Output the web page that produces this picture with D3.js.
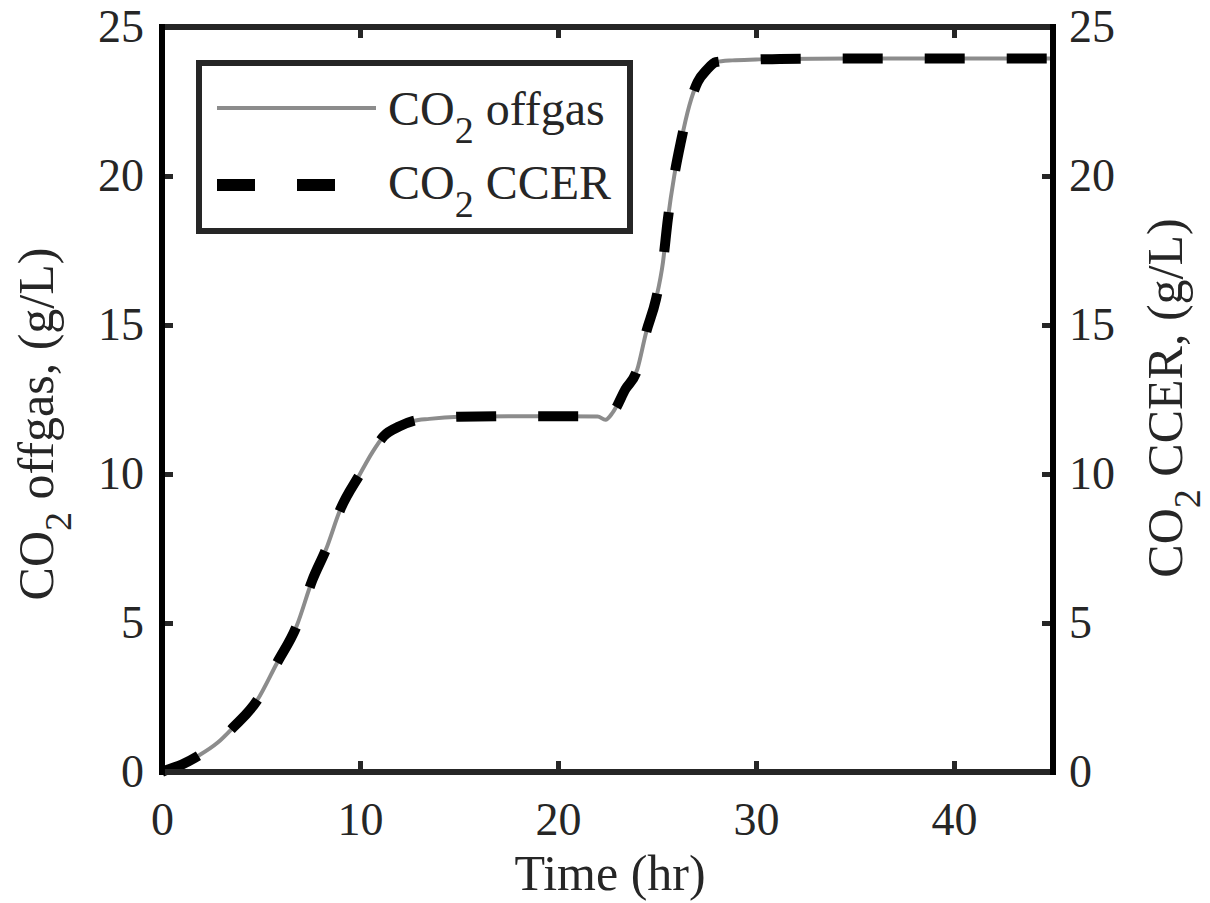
<!DOCTYPE html>
<html>
<head>
<meta charset="utf-8">
<title>CO2 offgas vs CCER</title>
<style>
  body { margin: 0; background: #fff; }
  svg { display: block; }
  text { font-family: "Liberation Serif", "Times New Roman", serif; fill: #262626; }
</style>
</head>
<body>
<script src="https://cdn.jsdelivr.net/npm/d3@7"></script>
<script>
// values
var time   = [0, 0.25, 1, 1.9, 2.8, 3.6, 4.8, 5.8, 6.8, 7.6, 8.3, 9.0, 10.0, 10.6, 11.2, 12.0, 12.7, 13.5, 15.0, 17.5, 20.0, 22.0, 22.4, 22.76, 23.4, 24.0, 24.45, 24.95, 25.3, 25.55, 25.87, 26.2, 26.63, 27.05, 27.5, 27.97, 28.8, 30, 31.2, 35, 40, 45];
var offgas = [0, 0.07, 0.25, 0.57, 0.98, 1.5, 2.4, 3.65, 4.9, 6.45, 7.5, 8.8, 10.0, 10.7, 11.27, 11.6, 11.78, 11.85, 11.92, 11.94, 11.94, 11.93, 11.82, 12.06, 12.84, 13.5, 14.75, 15.87, 17.1, 18.56, 20.0, 21.13, 22.36, 23.15, 23.55, 23.82, 23.88, 23.91, 23.93, 23.94, 23.94, 23.94];
var ccer   = [0, 0.07, 0.25, 0.57, 0.98, 1.5, 2.4, 3.65, 4.9, 6.45, 7.5, 8.8, 10.0, 10.7, 11.27, 11.6, 11.78, 11.85, 11.92, 11.94, 11.94, 11.94, 11.95, 12.06, 12.84, 13.5, 14.75, 15.87, 17.1, 18.56, 20.0, 21.13, 22.36, 23.15, 23.55, 23.82, 23.88, 23.91, 23.93, 23.94, 23.94, 23.94];
var xTicks = [0, 10, 20, 30, 40];
var yTicks = [0, 5, 10, 15, 20, 25];

var W = 1210, H = 903;
var L = 162, T = 27, R = 1053, B = 772;

var svg = d3.select('body').append('svg').attr('width', W).attr('height', H);

var x = d3.scaleLinear().domain([0, 45]).range([L, R]);
var y = d3.scaleLinear().domain([0, 25]).range([B, T]);

//轴
var fs = 46;
function styleAxis(g){
  g.select('.domain').remove();
  g.selectAll('.tick line').attr('stroke', '#262626').attr('stroke-width', 5);
  g.selectAll('.tick text').style('font-size', fs + 'px').attr('fill', '#262626')
    .style('font-family', '"Liberation Serif", serif');
}
svg.append('g').attr('transform', 'translate(0,' + B + ')')
  .call(d3.axisBottom(x).tickValues(xTicks).tickSize(-11).tickPadding(30).tickSizeOuter(0))
  .call(styleAxis);
svg.append('g').attr('transform', 'translate(0,' + T + ')')
  .call(d3.axisTop(x).tickValues(xTicks).tickSize(-11).tickFormat('').tickSizeOuter(0))
  .call(styleAxis);
svg.append('g').attr('transform', 'translate(' + L + ',0)')
  .call(d3.axisLeft(y).tickValues(yTicks).tickSize(-11).tickPadding(18).tickSizeOuter(0))
  .call(styleAxis);
svg.append('g').attr('transform', 'translate(' + R + ',0)')
  .call(d3.axisRight(y).tickValues(yTicks).tickSize(-11).tickPadding(16).tickSizeOuter(0))
  .call(styleAxis);

//线
var line = function(vals){
  return d3.line().x(function(d, i){ return x(time[i]); })
    .y(function(d){ return y(d); })
    .curve(d3.curveMonotoneX)(vals);
};
svg.append('path').attr('d', line(offgas))
  .attr('fill', 'none').attr('stroke', '#8c8c8c').attr('stroke-width', 4);
svg.append('path').attr('d', line(ccer))
  .attr('fill', 'none').attr('stroke', '#000').attr('stroke-width', 10)
  .attr('stroke-dasharray', '40,42');

//框
svg.append('line').attr('x1', L).attr('x2', R).attr('y1', T).attr('y2', T)
  .attr('stroke', '#262626').attr('stroke-width', 6);
svg.append('line').attr('x1', L).attr('x2', R).attr('y1', B).attr('y2', B)
  .attr('stroke', '#262626').attr('stroke-width', 6);
svg.append('line').attr('x1', L).attr('x2', L).attr('y1', T - 3).attr('y2', B + 3)
  .attr('stroke', '#000').attr('stroke-width', 6);
svg.append('line').attr('x1', R).attr('x2', R).attr('y1', T - 3).attr('y2', B + 3)
  .attr('stroke', '#000').attr('stroke-width', 6);

//带下标的文字
function co2Label(sel, rest){
  sel.append('tspan').text('CO');
  sel.append('tspan').text('2').attr('dy', 18).style('font-size', '38px');
  sel.append('tspan').text(' ' + rest).attr('dy', -18);
}

//轴标题
svg.append('text').attr('x', 610).attr('y', 890).attr('text-anchor', 'middle')
  .style('font-size', '50px').text('Time (hr)');
svg.append('text').attr('transform', 'translate(53,424) rotate(-90)')
  .attr('text-anchor', 'middle').style('font-size', '50px')
  .call(co2Label, 'offgas, (g/L)');
svg.append('text').attr('transform', 'translate(1182,398) rotate(-90)')
  .attr('text-anchor', 'middle').style('font-size', '50px')
  .call(co2Label, 'CCER, (g/L)');

//图例
var lg = svg.append('g');
lg.append('rect').attr('x', 199).attr('y', 63).attr('width', 431).attr('height', 168)
  .attr('fill', '#fff').attr('stroke', '#262626').attr('stroke-width', 6);
lg.append('line').attr('x1', 217).attr('x2', 376).attr('y1', 108).attr('y2', 108)
  .attr('stroke', '#8c8c8c').attr('stroke-width', 4);
lg.append('line').attr('x1', 217).attr('x2', 376).attr('y1', 185).attr('y2', 185)
  .attr('stroke', '#000').attr('stroke-width', 12).attr('stroke-dasharray', '38,42');
lg.append('text').attr('x', 388).attr('y', 125).style('font-size', '48px')
  .call(co2Label, 'offgas');
lg.append('text').attr('x', 388).attr('y', 199).style('font-size', '48px')
  .call(co2Label, 'CCER');
</script>
</body>
</html>
